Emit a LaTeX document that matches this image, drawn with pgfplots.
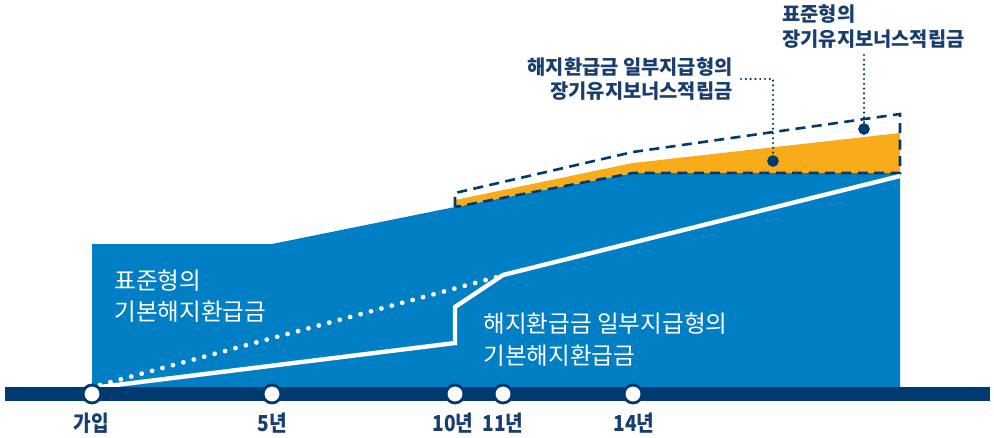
\documentclass[border=0pt]{standalone}
\usepackage{fontspec}
\setmainfont{Noto Sans CJK KR}
\newfontfamily\tickfont[FakeStretch=0.87]{Noto Sans CJK KR}
\usepackage{pgfplots}
\pgfplotsset{compat=1.18}
\definecolor{cblue}{RGB}{0,127,196}
\definecolor{corange}{RGB}{249,172,25}
\definecolor{cnavy}{RGB}{0,58,112}
\definecolor{ctext}{RGB}{24,62,110}
\begin{document}
\begin{tikzpicture}
\begin{axis}[
  width=497pt, height=219pt, scale only axis,
  xmin=0, xmax=994, ymin=0, ymax=438, y dir=reverse,
  hide axis, clip=false,
]
% blue area
\addplot[fill=cblue, draw=none] coordinates {(92,392) (92,244) (272,244) (455,207) (633,173) (900,173) (900,392)} -- cycle;
% orange area
\addplot[fill=corange, draw=none] coordinates {(455,207) (455,200) (633,163) (900,133) (900,173) (633,173)} -- cycle;
% dashed outline
\addplot[cnavy, line width=1.3pt, dash pattern=on 5pt off 3.2pt] coordinates {(455,207) (455,193) (633,152) (900,114) (900,173) (633,173) (455,207)};
% dotted white (standard)
\addplot[white, line width=2.4pt, line cap=round, dash pattern=on 0pt off 5.4pt] coordinates {(100,385) (497,277)};
% solid white (partial)
\addplot[white, line width=2.2pt] coordinates {(100,387) (455,343) (455,307) (503,275) (900,176)};
% leaders
\addplot[cnavy, line width=1.2pt, line cap=round, dash pattern=on 0pt off 2.4pt] coordinates {(741,79) (773,79) (773,161)};
\addplot[cnavy, line width=1.2pt, line cap=round, dash pattern=on 0pt off 2.4pt] coordinates {(864,55) (864,129)};
\addplot[only marks, mark=*, mark size=2.7pt, cnavy] coordinates {(773,161) (864,129)};
% timeline bar
\addplot[fill=cnavy, draw=none] coordinates {(5,387) (990,387) (990,401) (5,401)} -- cycle;
\addplot[only marks, mark=*, mark size=5pt, cnavy] coordinates {(92,394) (272,394) (455,394) (503,394) (633,394)};
\addplot[only marks, mark=*, mark size=3.5pt, white, mark options={draw=none}] coordinates {(92,394) (272,394) (455,394) (503,394) (633,394)};
% tick labels
\begin{scope}[every node/.style={font=\tickfont\fontsize{11pt}{12pt}\selectfont\bfseries, text=ctext, inner sep=0pt}]
\node at (axis cs:91,423) {가입};
\node at (axis cs:272,423) {5년};
\node at (axis cs:453,423) {10년};
\node at (axis cs:503,423) {11년};
\node at (axis cs:634,423) {14년};
\end{scope}
% white labels
\begin{scope}[every node/.style={font=\fontsize{11.8pt}{12pt}\selectfont, text=white, inner sep=0pt, anchor=west}]
\node at (axis cs:114,281) {표준형의};
\node at (axis cs:114,312) {기본해지환급금};
\node at (axis cs:483,324) {해지환급금 일부지급형의};
\node at (axis cs:483,356) {기본해지환급금};
\end{scope}
% top labels
\begin{scope}[every node/.style={font=\fontsize{9.9pt}{11pt}\selectfont\bfseries, text=ctext, inner sep=0pt}]
\node[anchor=west] at (axis cs:782,14) {표준형의};
\node[anchor=west] at (axis cs:782,39) {장기유지보너스적립금};
\node[anchor=east] at (axis cs:733,67) {해지환급금 일부지급형의};
\node[anchor=east] at (axis cs:733,91) {장기유지보너스적립금};
\end{scope}
\path (axis cs:0,0) rectangle (axis cs:994,438);
\end{axis}
\end{tikzpicture}
\end{document}
